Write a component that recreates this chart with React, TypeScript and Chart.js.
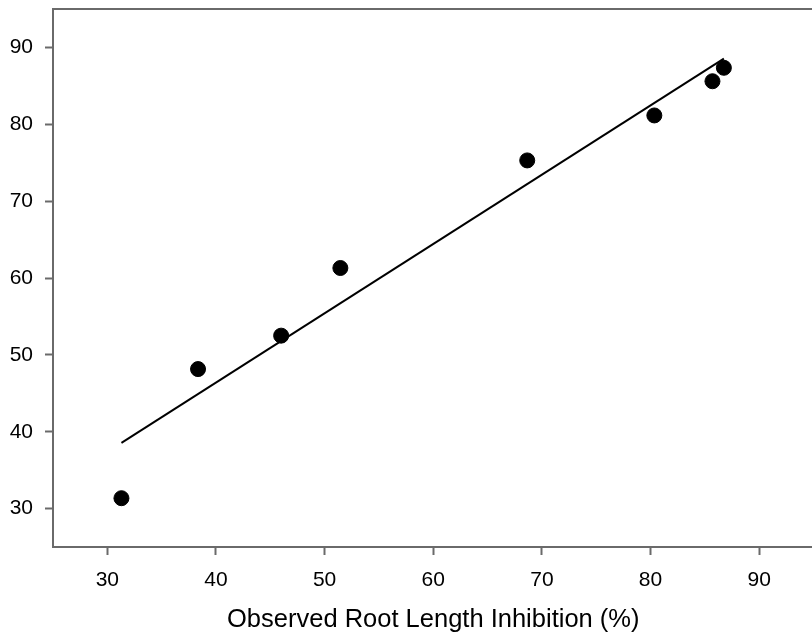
import React, { useEffect, useRef } from "react";
import { Chart, registerables } from "chart.js";

Chart.register(...registerables);

const observed = [31.3, 38.35, 46.0, 51.45, 68.65, 80.35, 85.7, 86.75];
const predicted = [31.35, 48.15, 52.5, 61.3, 75.3, 81.15, 85.6, 87.35];
const fitX = [31.3, 86.75];
const fitY = [38.55, 88.55];
const xTicks = [30, 40, 50, 60, 70, 80, 90];
const yTicks = [30, 40, 50, 60, 70, 80, 90];
const xTitle = "Observed Root Length Inhibition (%)";

const FONT = "'Liberation Sans', Arial, Helvetica, sans-serif";
const AXIS = "#6a6a6a";

const frame = {
  id: "frame",
  afterDraw(chart: any) {
    const { ctx, chartArea } = chart;
    ctx.save();
    ctx.strokeStyle = AXIS;
    ctx.lineWidth = 2;
    ctx.beginPath();
    ctx.moveTo(chartArea.left, chartArea.top);
    ctx.lineTo(chartArea.right, chartArea.top);
    ctx.lineTo(chartArea.right, chartArea.bottom);
    ctx.stroke();
    ctx.restore();
  },
};

export default function App() {
  const ref = useRef<HTMLCanvasElement | null>(null);
  useEffect(() => {
    if (!ref.current) return;
    const chart = new Chart(ref.current, {
      type: "scatter",
      data: {
        datasets: [
          {
            type: "line",
            data: fitX.map((x, i) => ({ x, y: fitY[i] })),
            borderColor: "#000",
            borderWidth: 2,
            pointRadius: 0,
            fill: false,
            tension: 0,
          } as any,
          {
            type: "scatter",
            data: observed.map((x, i) => ({ x, y: predicted[i] })),
            backgroundColor: "#000",
            borderColor: "#000",
            pointRadius: 7.5,
            pointHoverRadius: 7.5,
          },
        ],
      },
      options: {
        responsive: false,
        animation: false,
        events: [],
        layout: { padding: { top: 9, left: 0, right: 0, bottom: 0 } },
        plugins: { legend: { display: false }, tooltip: { enabled: false } },
        scales: {
          x: {
            type: "linear",
            min: 25,
            max: 95,
            afterBuildTicks: (s: any) => {
              s.ticks = xTicks.map((v) => ({ value: v }));
            },
            afterFit: (s: any) => {
              s.height = 92;
              s.paddingLeft = 0;
              s.paddingRight = 0;
            },
            grid: {
              drawOnChartArea: false,
              drawTicks: true,
              tickLength: 8,
              tickColor: AXIS,
              tickWidth: 2,
            },
            border: { color: AXIS, width: 2 },
            ticks: {
              color: "#000",
              padding: 13,
              maxRotation: 0,
              font: { family: FONT, size: 21 },
            },
            title: {
              display: true,
              text: xTitle,
              color: "#000",
              padding: { top: 0, bottom: 4 },
              font: { family: FONT, size: 25.5 },
            },
          },
          y: {
            type: "linear",
            min: 25,
            max: 95,
            afterBuildTicks: (s: any) => {
              s.ticks = yTicks.map((v) => ({ value: v }));
            },
            afterFit: (s: any) => {
              s.width = 53;
              s.paddingTop = 0;
              s.paddingBottom = 0;
            },
            grid: {
              drawOnChartArea: false,
              drawTicks: true,
              tickLength: 8,
              tickColor: AXIS,
              tickWidth: 2,
            },
            border: { color: AXIS, width: 2 },
            ticks: {
              color: "#000",
              padding: 12,
              font: { family: FONT, size: 21 },
            },
          },
        },
      },
      plugins: [frame],
    });
    return () => chart.destroy();
  }, []);

  return (
    <div
      style={{
        position: "absolute",
        left: 0,
        top: 0,
        width: 812,
        height: 639,
        overflow: "hidden",
        background: "#fff",
      }}
    >
      <canvas ref={ref} width={822} height={639} style={{ display: "block" }} />
    </div>
  );
}
